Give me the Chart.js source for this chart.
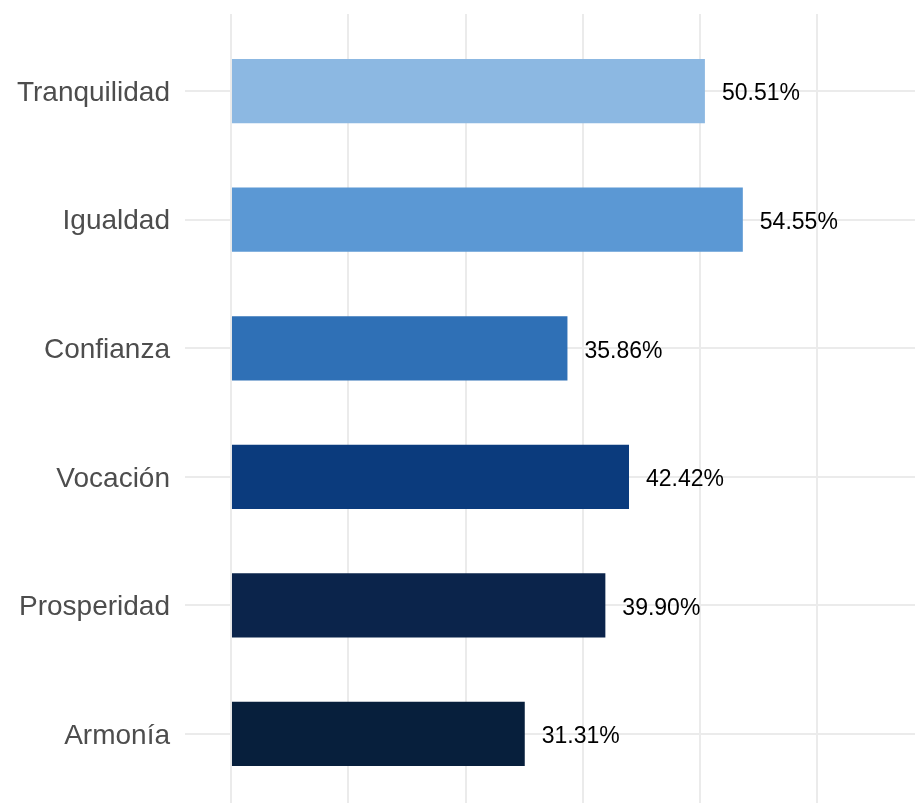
<!DOCTYPE html>
<html>
<head>
  <meta charset="utf-8" />
  <title>Valores</title>
  <style>
    html, body { margin: 0; padding: 0; background: #fff; overflow: hidden; }
    #wrap { width: 915px; height: 803px; }
  </style>
</head>
<body>
  <div id="wrap"><canvas id="stage"></canvas></div>

  <script src="https://cdn.jsdelivr.net/npm/chart.js@4.4.1/dist/chart.umd.min.js"></script>
  <script>
    // categorías de arriba hacia abajo
    const categorias = ['Tranquilidad', 'Igualdad', 'Confianza', 'Vocación', 'Prosperidad', 'Armonía'];
    const porcentajes = [50.51, 54.55, 35.86, 42.42, 39.90, 31.31];
    const colores = ['#8cb8e2', '#5b98d4', '#2f70b6', '#0b3b7d', '#0b244b', '#071f3c'];
    const gridX = [0, 12.5, 25, 37.5, 50, 62.5];

    const fuente = '"Liberation Sans", Arial, Helvetica, sans-serif';

    // etiquetas al final de cada barra
    const etiquetas = {
      id: 'etiquetas',
      afterDatasetsDraw(chart) {
        const ctx = chart.ctx;
        const meta = chart.getDatasetMeta(0);
        ctx.save();
        ctx.font = '23px ' + fuente;
        ctx.fillStyle = '#000';
        ctx.textAlign = 'left';
        ctx.textBaseline = 'middle';
        meta.data.forEach((bar, i) => {
          ctx.fillText(porcentajes[i].toFixed(2) + '%', bar.x + 17, bar.y + 3);
        });
        ctx.restore();
      }
    };

    new Chart(document.getElementById('stage'), {
      type: 'bar',
      data: {
        datasets: [{
          data: porcentajes.map((v, i) => ({ x: v, y: i + 1 })),
          backgroundColor: colores,
          barPercentage: 0.5,
          categoryPercentage: 1,
        }]
      },
      options: {
        indexAxis: 'y',
        responsive: true,
        maintainAspectRatio: false,
        animation: false,
        layout: { padding: { top: 14, right: 0, bottom: 0, left: 0 } },
        plugins: {
          legend: { display: false },
          tooltip: { enabled: false },
        },
        scales: {
          x: {
            type: 'linear',
            min: -4.9,
            max: 72.9,
            afterBuildTicks: axis => { axis.ticks = gridX.map(v => ({ value: v })); },
            afterFit: axis => { axis.height = 0; axis.paddingLeft = 0; axis.paddingRight = 0; },
            ticks: { display: false, padding: 0 },
            border: { display: false },
            grid: { color: '#ebebeb', lineWidth: 2, drawTicks: false },
          },
          y: {
            type: 'linear',
            reverse: true,
            offset: false,
            min: 0.4,
            max: 6.537,
            afterBuildTicks: axis => { axis.ticks = categorias.map((c, i) => ({ value: i + 1 })); },
            afterFit: axis => { axis.width = 185; axis.paddingTop = 0; axis.paddingBottom = 0; },
            ticks: {
              callback: v => categorias[v - 1],
              color: '#4d4d4d',
              font: { family: fuente, size: 28 },
              padding: 15,
              labelOffset: 2,
            },
            border: { display: false },
            grid: { color: '#ebebeb', lineWidth: 2, drawTicks: false, offset: false },
          }
        }
      },
      plugins: [etiquetas]
    });
  </script>
</body>
</html>
